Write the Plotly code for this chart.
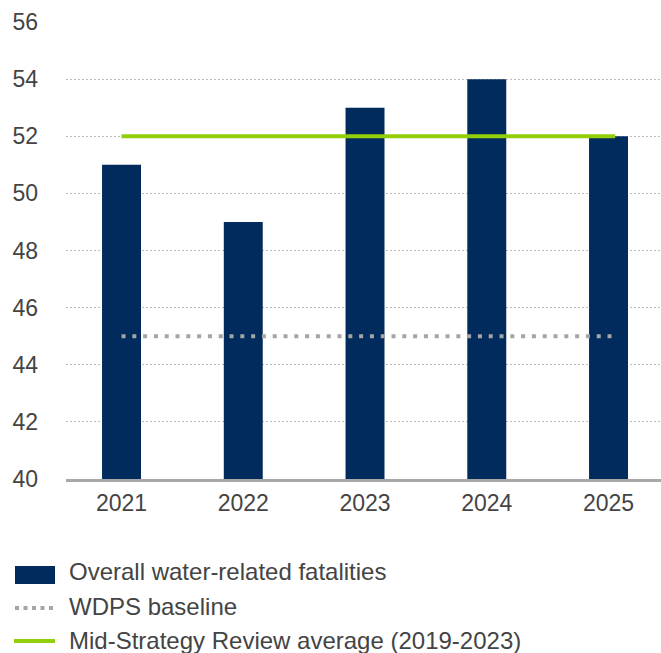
import plotly.graph_objects as go

years = ["2021", "2022", "2023", "2024", "2025"]
fatalities = [51, 49, 53, 54, 52]
baseline_value = 45
review_average = 52
legend_labels = ["Overall water-related fatalities", "WDPS baseline",
                 "Mid-Strategy Review average (2019-2023)"]
y_ticks = [40, 42, 44, 46, 48, 50, 52, 54, 56]

NAVY = "#002B5C"
GREEN = "#92CF0A"
GREY_DOT = "#A5A5A5"
TEXT = "#444444"
FONT = "Liberation Sans, Arial, sans-serif"

idx = list(range(len(years)))
line_ext = 0.055

# plot-area pixel geometry helpers (for the hand-built legend)
L, R, T, B = 66, 661, 22, 479
def px(x):
    return (x - L) / (R - L)
def py(y):
    return (B - y) / (B - T)

fig = go.Figure()
fig.add_trace(go.Bar(x=idx, y=fatalities, width=0.32, marker_color=NAVY,
                     marker_line_width=0, showlegend=False, name=legend_labels[0]))
fig.add_trace(go.Scatter(x=[idx[0], idx[-1] + line_ext], y=[baseline_value] * 2, mode="lines",
                         line=dict(color=GREY_DOT, width=4, dash="4px,6.8px"),
                         showlegend=False, name=legend_labels[1]))
fig.add_trace(go.Scatter(x=[idx[0], idx[-1] + line_ext], y=[review_average] * 2, mode="lines",
                         line=dict(color=GREEN, width=4),
                         showlegend=False, name=legend_labels[2]))

shapes = [
    dict(type="rect", xref="paper", yref="paper", x0=px(15), x1=px(55), y0=py(566), y1=py(584),
         fillcolor=NAVY, line_width=0),
    dict(type="line", xref="paper", yref="paper", x0=px(15), x1=px(55), y0=py(608), y1=py(608),
         line=dict(color=GREY_DOT, width=4, dash="4px,4.5px")),
    dict(type="line", xref="paper", yref="paper", x0=px(14), x1=px(55), y0=py(641), y1=py(641),
         line=dict(color=GREEN, width=4)),
]
annotations = []
for lab, yc in zip(legend_labels, [571, 606, 640]):
    annotations.append(dict(text=lab, xref="paper", yref="paper", x=px(67), y=py(yc),
                            xanchor="left", yanchor="middle", showarrow=False,
                            font=dict(size=24, color=TEXT, family=FONT)))

fig.update_layout(
    width=661, height=653,
    margin=dict(l=L, r=661 - R, t=T, b=653 - B),
    plot_bgcolor="white", paper_bgcolor="white",
    font=dict(family=FONT, size=23, color=TEXT),
    showlegend=False,
    shapes=shapes, annotations=annotations,
    xaxis=dict(range=[-0.456, 4.431], tickmode="array", tickvals=idx, ticktext=years,
               showgrid=False, zeroline=False, showline=True, linecolor="#A8A8A8",
               linewidth=3, ticks="", ticklabelstandoff=1,
               tickfont=dict(size=23, color=TEXT)),
    yaxis=dict(range=[40, 56], tickmode="array", tickvals=y_ticks,
               showgrid=True, gridcolor="#BDBDBD", griddash="2px,2px", gridwidth=1,
               zeroline=False, showline=False, ticks="", ticklabelstandoff=27,
               tickfont=dict(size=23, color=TEXT)),
)

fig.write_html("out.html", config={"displayModeBar": False},
               post_script="document.body.style.margin='0';")
